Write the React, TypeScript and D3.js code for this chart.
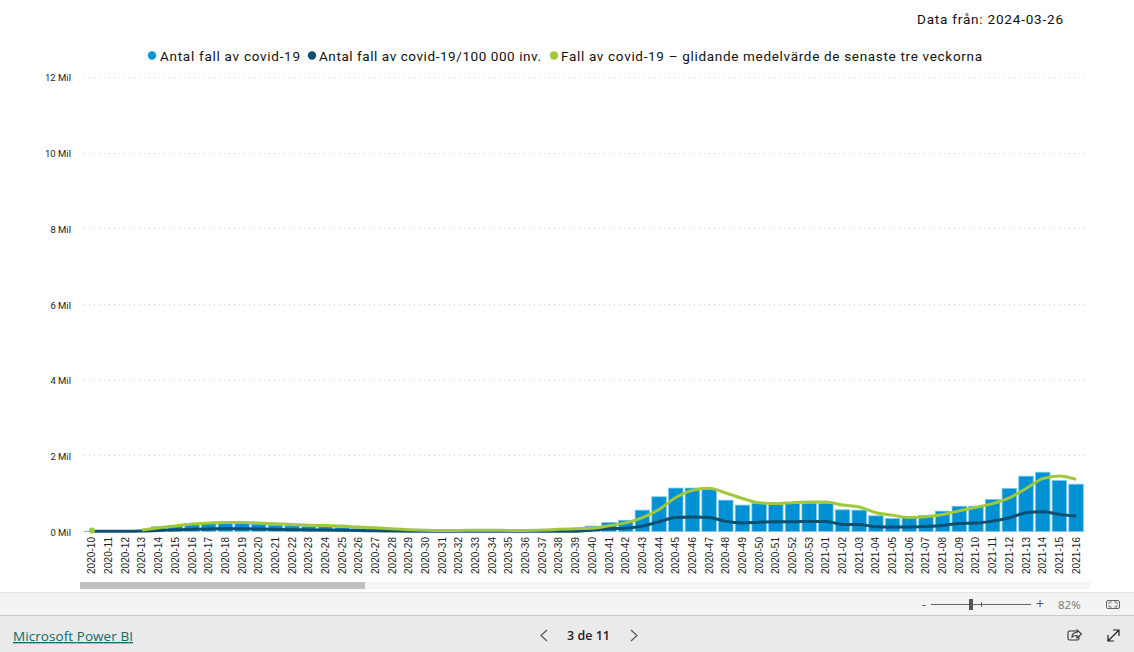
import React from "react";
import * as d3 from "d3";

const weeks2020 = d3.range(10, 54).map((w) => `2020-${String(w).padStart(2, "0")}`);
const weeks2021 = d3.range(1, 17).map((w) => `2021-${String(w).padStart(2, "0")}`);
const categories = [...weeks2020, ...weeks2021];

const cases = [
  0.01, 0.005, 0.01, 0.04, 0.13, 0.15, 0.215, 0.23, 0.24, 0.235, 0.2, 0.17, 0.155, 0.135, 0.13, 0.11, 0.08, 0.06, 0.04,
  0.025, 0.02, 0.02, 0.02, 0.02, 0.02, 0.02, 0.02, 0.025, 0.03, 0.03, 0.145, 0.243, 0.3, 0.567, 0.92, 1.15, 1.15, 1.12,
  0.83, 0.7, 0.75, 0.73, 0.74, 0.75, 0.75, 0.575, 0.567, 0.417, 0.348, 0.38, 0.427, 0.54, 0.67, 0.67, 0.85, 1.14, 1.464,
  1.57, 1.35, 1.253,
];
const casesPer100k = [
  0.01, 0.01, 0.01, 0.015, 0.03, 0.05, 0.06, 0.07, 0.08, 0.075, 0.07, 0.06, 0.05, 0.045, 0.04, 0.035, 0.03, 0.02, 0.015,
  0.01, 0.01, 0.01, 0.01, 0.01, 0.01, 0.01, 0.01, 0.01, 0.01, 0.01, 0.04, 0.075, 0.09, 0.145, 0.26, 0.375, 0.385, 0.375,
  0.27, 0.23, 0.25, 0.26, 0.26, 0.27, 0.27, 0.19, 0.19, 0.125, 0.12, 0.12, 0.135, 0.16, 0.215, 0.225, 0.277, 0.365,
  0.497, 0.525, 0.455, 0.41,
];
const movingAverage: (number | null)[] = [
  0.03, null, null, 0.04, 0.1, 0.15, 0.2, 0.225, 0.243, 0.243, 0.225, 0.206, 0.19, 0.17, 0.16, 0.145, 0.12, 0.1, 0.075,
  0.05, 0.035, 0.03, 0.03, 0.035, 0.035, 0.03, 0.03, 0.04, 0.06, 0.075, 0.09, 0.154, 0.23, 0.37, 0.585, 0.9, 1.09, 1.148,
  1.02, 0.875, 0.76, 0.74, 0.765, 0.78, 0.78, 0.7, 0.65, 0.5, 0.435, 0.37, 0.39, 0.45, 0.55, 0.64, 0.74, 0.89, 1.14, 1.4,
  1.47, 1.38,
];
const yTicks = [0, 2, 4, 6, 8, 10, 12];
const legendItems = [
  { label: "Antal fall av covid-19", color: "#0a93d8", dot: 152, x: 160, w: 140 },
  { label: "Antal fall av covid-19/100 000 inv.", color: "#0b4f71", dot: 312, x: 319, w: 222 },
  { label: "Fall av covid-19 – glidande medelvärde de senaste tre veckorna", color: "#a0c83a", dot: 554, x: 561, w: 421 },
];

const W = 1134;
const H = 652;
const din = "Roboto, 'Noto Sans', sans-serif";
const ui = "'Open Sans', 'Noto Sans', sans-serif";

export default function App() {
  const x = d3.scaleBand<string>().domain(categories).range([83.6, 1084.4]).paddingInner(0.13).paddingOuter(0.065);
  const y = d3.scaleLinear().domain([0, 12]).range([531.6, 77.4]);
  const cx = (i: number) => (x(categories[i]) as number) + x.bandwidth() / 2;
  const line = d3
    .line<number | null>()
    .defined((d) => d !== null)
    .x((_, i) => cx(i))
    .y((d) => y(d as number))
    .curve(d3.curveMonotoneX);

  return (
    <svg
      width={W}
      height={H}
      viewBox={`0 0 ${W} ${H}`}
      style={{ position: "fixed", left: 0, top: 0, background: "#fff", display: "block" }}
    >
      <text x={917} y={24} fontFamily={din} fontSize={13.5} fill="#111" textLength={146} lengthAdjust="spacing">
        Data från: 2024-03-26
      </text>

      {legendItems.map((l) => (
        <g key={l.label}>
          <circle cx={l.dot} cy={55.5} r={4.2} fill={l.color} />
          <text x={l.x} y={61} fontFamily={din} fontSize={13.5} fill="#111" textLength={l.w} lengthAdjust="spacing">
            {l.label}
          </text>
        </g>
      ))}

      {yTicks.map((t) => (
        <g key={t}>
          <line
            x1={84}
            x2={1089}
            y1={Math.round(y(t) - 0.5) + 0.5}
            y2={Math.round(y(t) - 0.5) + 0.5}
            stroke="#d4d4d4"
            strokeWidth={1}
            strokeDasharray="1 4"
          />
          <text x={71} y={y(t) + 4} textAnchor="end" fontFamily={din} fontSize={9.5} fill="#222">
            {t} Mil
          </text>
        </g>
      ))}

      {categories.map((c, i) => (
        <rect
          key={c}
          x={x(c)}
          y={y(cases[i])}
          width={x.bandwidth()}
          height={y(0) - y(cases[i])}
          fill="#0091d5"
          stroke="#7cc6ea"
          strokeWidth={0.8}
        />
      ))}

      <path d={line(casesPer100k) as string} fill="none" stroke="#0b4f71" strokeWidth={3} strokeLinejoin="round" />
      <path d={line(movingAverage) as string} fill="none" stroke="#a0c83a" strokeWidth={3} strokeLinejoin="round" />
      <circle cx={cx(0)} cy={y(movingAverage[0] as number)} r={3} fill="#a0c83a" />

      {categories.map((c, i) => (
        <text
          key={c}
          transform={`translate(${cx(i) + 3.5},574) rotate(-90)`}
          fontFamily="'Liberation Sans', Arial, sans-serif"
          fontSize={10}
          fill="#222"
          textLength={37}
          lengthAdjust="spacing"
        >
          {c}
        </text>
      ))}

      {/* scrollbar */}
      <rect x={80} y={582} width={1010} height={7} fill="#f5f5f5" />
      <rect x={80} y={582} width={285} height={7} fill="#c0c0c0" />

      {/* footer */}
      <rect x={0} y={592} width={W} height={24} fill="#f3f3f3" />
      <rect x={0} y={592} width={W} height={1} fill="#e3e3e3" />
      <rect x={0} y={615} width={W} height={37} fill="#eaeaea" />
      <rect x={0} y={615} width={W} height={1} fill="#c8c8c8" />

      <text x={922} y={609} fontFamily={ui} fontSize={13} fill="#555">-</text>
      <line x1={931} x2={1031} y1={604.5} y2={604.5} stroke="#666" />
      <rect x={969} y={599} width={4} height={11} fill="#555" />
      <line x1={981.5} x2={981.5} y1={602} y2={607} stroke="#666" />
      <text x={1036} y={609} fontFamily={ui} fontSize={14} fill="#555">+</text>
      <text x={1058} y={609} fontFamily={ui} fontSize={11.5} fill="#777">82%</text>
      <rect x={1106.5} y={600.5} width={13} height={8} rx={1.5} fill="none" stroke="#666" />
      <path d="M1109 604v-2h3M1117 604v-2h-3M1109 605v2h3M1117 605v2h-3" fill="none" stroke="#666" strokeWidth={0.8} />

      <text
        x={13}
        y={641}
        fontFamily={ui}
        fontSize={13.5}
        fill="#0d6b6b"
        textDecoration="underline"
        textLength={120}
        lengthAdjust="spacing"
      >
        Microsoft Power BI
      </text>

      <path d="M547 630l-6 5.5 6 5.5" fill="none" stroke="#555" strokeWidth={1.2} />
      <text x={567} y={640} fontFamily={ui} fontSize={12.5} fontWeight={600} fill="#222" textLength={43}>
        3 de 11
      </text>
      <path d="M631 630l6 5.5-6 5.5" fill="none" stroke="#555" strokeWidth={1.2} />

      <path
        d="M1076 631h-6.500a1.500 1.500 0 0 0-1.500 1.500v6a1.500 1.500 0 0 0 1.500 1.500h8a1.500 1.500 0 0 0 1.500-1.500v-2"
        fill="none"
        stroke="#333"
        strokeWidth={1.1}
      />
      <path d="M1072 637c0-3 2-4.500 5-4.500v-2.500l4.500 4-4.500 4v-2.500c-2 0-3.500 0-5 1.500z" fill="none" stroke="#333" strokeWidth={1.1} />
      <path d="M1108 641l11-11M1113 630h6v6M1108 635v6h6" fill="none" stroke="#222" strokeWidth={1.2} />
    </svg>
  );
}
